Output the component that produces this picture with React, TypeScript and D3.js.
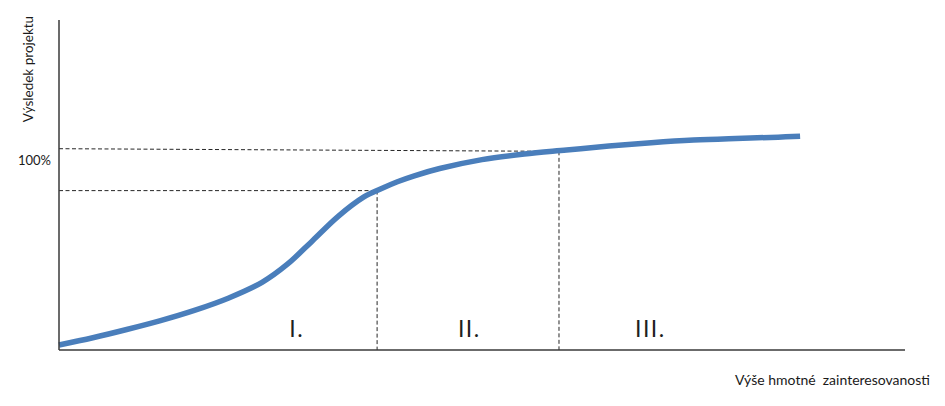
import React from "react";
import * as d3 from "d3";

// Curve: x in units (0..100 along x-axis), y in units (0..100 along y-axis)
const curveX = [0, 4, 8, 12, 16, 20, 24, 27, 30, 33, 36, 38, 40, 42, 45, 50, 55, 60, 65, 70, 75, 80, 85, 87.6];
const curveY = [1.5, 3.7, 6.2, 8.9, 12.0, 15.7, 20.5, 26.0, 33.2, 40.5, 46.3, 48.8, 51.0, 52.8, 55.0, 57.7, 59.4, 60.6, 61.8, 62.8, 63.6, 64.1, 64.5, 64.8];

// Dashed guide lines [x1, y1, x2, y2]
const guideLow = [0, 48.3, 37.6, 48.3];
const guideLowV = [37.6, 48.3, 37.6, 0];
const guideHigh = [0, 61.0, 59.1, 60.2];
const guideHighV = [59.1, 60.2, 59.1, 0];
const guides = [guideLow, guideLowV, guideHigh, guideHighV];

const phaseLabels = ["I.", "II.", "III."];
const phaseX = [28.1, 48.5, 69.9];

const yTickLabel = "100%";
const yTickValue = 57.6;
const yTitle = "Výsledek projektu";
const xTitle = "Výše hmotné\u00a0 zainteresovanosti";

const W = 945;
const H = 406;
const FONT = "Lato, 'Liberation Sans', Arial, sans-serif";

export default function App() {
  const x = d3.scaleLinear().domain([0, 100]).range([59, 905]);
  const y = d3.scaleLinear().domain([0, 100]).range([350, 20]);
  const pts = curveX.map((v, i) => [v, curveY[i]] as [number, number]);
  const line = d3
    .line<[number, number]>()
    .x((d) => x(d[0]))
    .y((d) => y(d[1]))
    .curve(d3.curveCatmullRom.alpha(0.5));

  return (
    <svg
      width={W}
      height={H}
      style={{ position: "absolute", left: 0, top: 0, background: "#fff" }}
    >
      <rect x={0} y={0} width={W} height={H} fill="#fff" />
      {guides.map((g, i) => (
        <line
          key={i}
          x1={x(g[0])}
          y1={y(g[1])}
          x2={x(g[2])}
          y2={y(g[3])}
          stroke="#262626"
          strokeWidth={1}
          strokeDasharray="4,2.5"
        />
      ))}
      <path
        d={line(pts) || ""}
        fill="none"
        stroke="#4a7ebb"
        strokeWidth={5.5}
      />
      {/* axes */}
      <line x1={x(0)} y1={y(0)} x2={x(0)} y2={y(100)} stroke="#3a3a3a" strokeWidth={1.5} />
      <line x1={x(0)} y1={y(0)} x2={x(100)} y2={y(0)} stroke="#3a3a3a" strokeWidth={1.5} />
      {phaseLabels.map((t, i) => (
        <text
          key={t}
          x={x(phaseX[i])}
          y={337}
          textAnchor="middle"
          fontFamily={FONT}
          fontSize={23}
          letterSpacing={1.5}
          fill="#1f1f1f"
        >
          {t}
        </text>
      ))}
      <text
        x={51}
        y={y(yTickValue) + 5}
        textAnchor="end"
        fontFamily={FONT}
        fontSize={13}
        fill="#1a1a1a"
      >
        {yTickLabel}
      </text>
      <text
        transform={`translate(33, 69) rotate(-90)`}
        textAnchor="middle"
        fontFamily={FONT}
        fontSize={13.5}
        fill="#1a1a1a"
      >
        {yTitle}
      </text>
      <text
        x={930}
        y={385}
        textAnchor="end"
        fontFamily={FONT}
        fontSize={14}
        fill="#1a1a1a"
      >
        {xTitle}
      </text>
    </svg>
  );
}
